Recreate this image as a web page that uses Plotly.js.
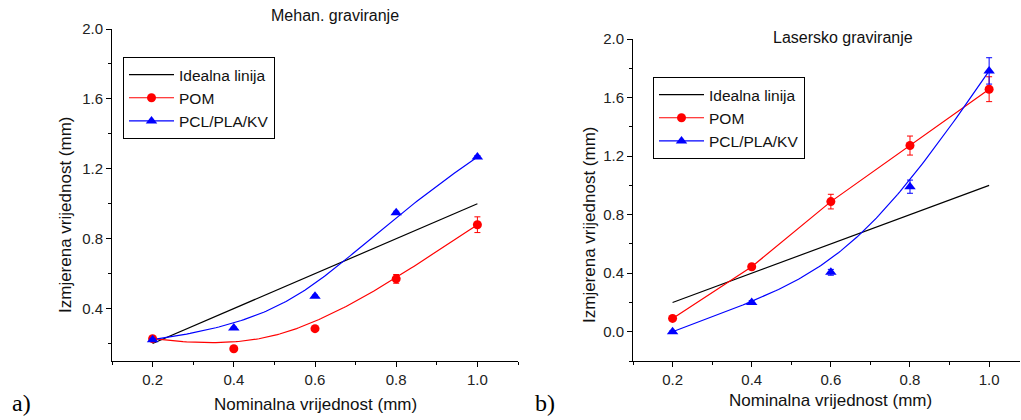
<!DOCTYPE html>
<html>
<head>
<meta charset="utf-8">
<script src="https://cdn.plot.ly/plotly-3.0.1.min.js"></script>
<style>html,body{margin:0;padding:0;background:#fff;}#chart{width:1021px;height:420px;}</style>
</head>
<body>
<div id="chart"></div>
<script>
// ---- data ----
const nominal = [0.2, 0.4, 0.6, 0.8, 1.0];
const idealX = [0.2, 1.0];
const idealY = [0.2, 1.0];

// a) Mehan. graviranje
const mehPOM = [0.228, 0.17, 0.285, 0.57, 0.88];
const mehPOMErr = [0.008, 0.006, 0.01, 0.025, 0.045];
const mehPCL = [0.222, 0.289, 0.471, 0.949, 1.267];
const mehPCLErr = [0.005, 0.005, 0.006, 0.008, 0.008];

// b) Lasersko graviranje
const lasPOM = [0.091, 0.444, 0.889, 1.272, 1.657];
const lasPOMErr = [0.01, 0.015, 0.05, 0.065, 0.085];
const lasPCL = [0.0, 0.2, 0.406, 0.991, 1.782];
const lasPCLErr = [0.008, 0.012, 0.02, 0.045, 0.09];

const legendNames = ["Idealna linija", "POM", "PCL/PLA/KV"];
const titles = ["Mehan. graviranje", "Lasersko graviranje"];
const xTitle = "Nominalna vrijednost (mm)";
const yTitle = "Izmjerena vrijednost (mm)";

// ---- clamped cubic B-spline through control points (curve approximating data) ----
function bspline(px, py, samples) {
  const n = px.length, d = 3;
  const knots = [];
  for (let i = 0; i <= d; i++) knots.push(0);
  const inner = n - d - 1;
  for (let i = 1; i <= inner; i++) knots.push(i / (inner + 1));
  for (let i = 0; i <= d; i++) knots.push(1);
  function N(i, k, u) {
    if (k === 0) {
      if (u === 1) return (knots[i] < 1 && knots[i + 1] === 1) ? 1 : 0;
      return (knots[i] <= u && u < knots[i + 1]) ? 1 : 0;
    }
    let a = 0, b = 0;
    const d1 = knots[i + k] - knots[i], d2 = knots[i + k + 1] - knots[i + 1];
    if (d1 > 0) a = (u - knots[i]) / d1 * N(i, k - 1, u);
    if (d2 > 0) b = (knots[i + k + 1] - u) / d2 * N(i + 1, k - 1, u);
    return a + b;
  }
  const xs = [], ys = [];
  for (let s = 0; s <= samples; s++) {
    const u = s / samples;
    let x = 0, y = 0;
    for (let i = 0; i < n; i++) { const w = N(i, d, u); x += w * px[i]; y += w * py[i]; }
    xs.push(x); ys.push(y);
  }
  return {x: xs, y: ys};
}

const FONT = "Arial, 'Liberation Sans', sans-serif";
const RED = "#ff0000", BLUE = "#0000ff";

function errBar(arr, color) {
  return {type: 'data', array: arr, visible: true, color: color, thickness: 1, width: 3};
}

const mehPOMCurve = bspline(nominal, mehPOM, 120);
const mehPCLCurve = bspline(nominal, mehPCL, 120);
const lasPCLCurve = bspline(nominal, lasPCL, 120);

const traces = [
  // ---- left panel ----
  {x: idealX, y: idealY, mode: 'lines', line: {color: '#000', width: 1.2}, name: legendNames[0], xaxis: 'x', yaxis: 'y', legend: 'legend'},
  {x: [null], y: [null], mode: 'lines+markers', line: {color: RED, width: 1.2}, marker: {symbol: 'circle', size: 9, color: RED}, name: legendNames[1], xaxis: 'x', yaxis: 'y', legend: 'legend'},
  {x: [null], y: [null], mode: 'lines+markers', line: {color: BLUE, width: 1.2}, marker: {symbol: 'triangle-up', size: 10, color: BLUE}, name: legendNames[2], xaxis: 'x', yaxis: 'y', legend: 'legend'},
  {x: mehPOMCurve.x, y: mehPOMCurve.y, mode: 'lines', line: {color: RED, width: 1.2}, showlegend: false, xaxis: 'x', yaxis: 'y', hoverinfo: 'skip'},
  {x: mehPCLCurve.x, y: mehPCLCurve.y, mode: 'lines', line: {color: BLUE, width: 1.2}, showlegend: false, xaxis: 'x', yaxis: 'y', hoverinfo: 'skip'},
  {x: nominal, y: mehPOM, mode: 'markers', marker: {symbol: 'circle', size: 9, color: RED}, error_y: errBar(mehPOMErr, RED), showlegend: false, xaxis: 'x', yaxis: 'y'},
  {x: nominal, y: mehPCL, mode: 'markers', marker: {symbol: 'triangle-up', size: 10, color: BLUE}, error_y: errBar(mehPCLErr, BLUE), showlegend: false, xaxis: 'x', yaxis: 'y'},
  // ---- right panel ----
  {x: idealX, y: idealY, mode: 'lines', line: {color: '#000', width: 1.2}, name: legendNames[0], xaxis: 'x2', yaxis: 'y2', legend: 'legend2'},
  {x: nominal, y: lasPOM, mode: 'lines+markers', line: {color: RED, width: 1.2}, marker: {symbol: 'circle', size: 9, color: RED}, error_y: errBar(lasPOMErr, RED), name: legendNames[1], xaxis: 'x2', yaxis: 'y2', legend: 'legend2'},
  {x: [null], y: [null], mode: 'lines+markers', line: {color: BLUE, width: 1.2}, marker: {symbol: 'triangle-up', size: 10, color: BLUE}, name: legendNames[2], xaxis: 'x2', yaxis: 'y2', legend: 'legend2'},
  {x: lasPCLCurve.x, y: lasPCLCurve.y, mode: 'lines', line: {color: BLUE, width: 1.2}, showlegend: false, xaxis: 'x2', yaxis: 'y2', hoverinfo: 'skip'},
  {x: nominal, y: lasPCL, mode: 'markers', marker: {symbol: 'triangle-up', size: 10, color: BLUE}, error_y: errBar(lasPCLErr, BLUE), showlegend: false, xaxis: 'x2', yaxis: 'y2'}
];

const W = 1021, H = 420;
const X = p => p / W, Y = p => 1 - p / H;

function axisCommon(extra) {
  return Object.assign({
    showline: true, linecolor: '#000', linewidth: 1, showgrid: false, zeroline: false,
    ticks: 'outside', ticklen: 5, tickwidth: 1, tickcolor: '#000',
    tickfont: {family: FONT, size: 15, color: '#222'}, tickformat: '.1f',
    fixedrange: true
  }, extra);
}

const annFont = {family: FONT, size: 17, color: '#111'};
const legFont = {family: FONT, size: 15.5, color: '#111'};
const layout = {
  width: W, height: H,
  margin: {l: 0, r: 0, t: 0, b: 0},
  paper_bgcolor: '#fff', plot_bgcolor: '#fff',
  showlegend: true,
  xaxis: axisCommon({domain: [X(112), X(518)], range: [0.1, 1.1], tick0: 0.2, dtick: 0.2, minor: {dtick: 0.1, ticks: 'outside', ticklen: 3, tickcolor: '#000'}, anchor: 'y'}),
  yaxis: axisCommon({domain: [Y(361), Y(29)], range: [0.1, 2.0], tick0: 0, dtick: 0.4, minor: {dtick: 0.2, ticks: 'outside', ticklen: 3, tickcolor: '#000'}, anchor: 'x'}),
  xaxis2: axisCommon({domain: [X(633), X(1020)], range: [0.1, 1.078], tick0: 0.2, dtick: 0.2, minor: {dtick: 0.1, ticks: 'outside', ticklen: 3, tickcolor: '#000'}, anchor: 'y2'}),
  yaxis2: axisCommon({domain: [Y(361), Y(39)], range: [-0.2, 2.0], tick0: 0, dtick: 0.4, minor: {dtick: 0.2, ticks: 'outside', ticklen: 3, tickcolor: '#000'}, anchor: 'x2'}),
  legend: {x: X(123), y: Y(57), xanchor: 'left', yanchor: 'top', bgcolor: '#fff', bordercolor: '#000', borderwidth: 1,
           font: legFont, traceorder: 'normal', tracegroupgap: 0, itemwidth: 45},
  legend2: {x: X(653), y: Y(77), xanchor: 'left', yanchor: 'top', bgcolor: '#fff', bordercolor: '#000', borderwidth: 1,
           font: legFont, traceorder: 'normal', tracegroupgap: 0, itemwidth: 45},
  annotations: [
    {text: titles[0], xref: 'paper', yref: 'paper', x: X(335), y: Y(16), showarrow: false, xanchor: 'center', yanchor: 'middle', font: {family: FONT, size: 16, color: '#111'}},
    {text: titles[1], xref: 'paper', yref: 'paper', x: X(843), y: Y(37), showarrow: false, xanchor: 'center', yanchor: 'middle', font: {family: FONT, size: 16, color: '#111'}},
    {text: xTitle, xref: 'paper', yref: 'paper', x: X(315), y: Y(404), showarrow: false, xanchor: 'center', yanchor: 'middle', font: annFont},
    {text: xTitle, xref: 'paper', yref: 'paper', x: X(830), y: Y(400), showarrow: false, xanchor: 'center', yanchor: 'middle', font: annFont},
    {text: yTitle, xref: 'paper', yref: 'paper', x: X(66), y: Y(215), showarrow: false, textangle: -90, xanchor: 'center', yanchor: 'middle', font: annFont},
    {text: yTitle, xref: 'paper', yref: 'paper', x: X(589), y: Y(225), showarrow: false, textangle: -90, xanchor: 'center', yanchor: 'middle', font: annFont},
    {text: 'a)', xref: 'paper', yref: 'paper', x: X(21), y: Y(403), showarrow: false, xanchor: 'center', yanchor: 'middle', font: {family: "'Liberation Serif', 'Times New Roman', serif", size: 24, color: '#000'}},
    {text: 'b)', xref: 'paper', yref: 'paper', x: X(545), y: Y(403), showarrow: false, xanchor: 'center', yanchor: 'middle', font: {family: "'Liberation Serif', 'Times New Roman', serif", size: 24, color: '#000'}}
  ]
};

Plotly.newPlot('chart', traces, layout, {staticPlot: true, displayModeBar: false});
</script>
</body>
</html>
